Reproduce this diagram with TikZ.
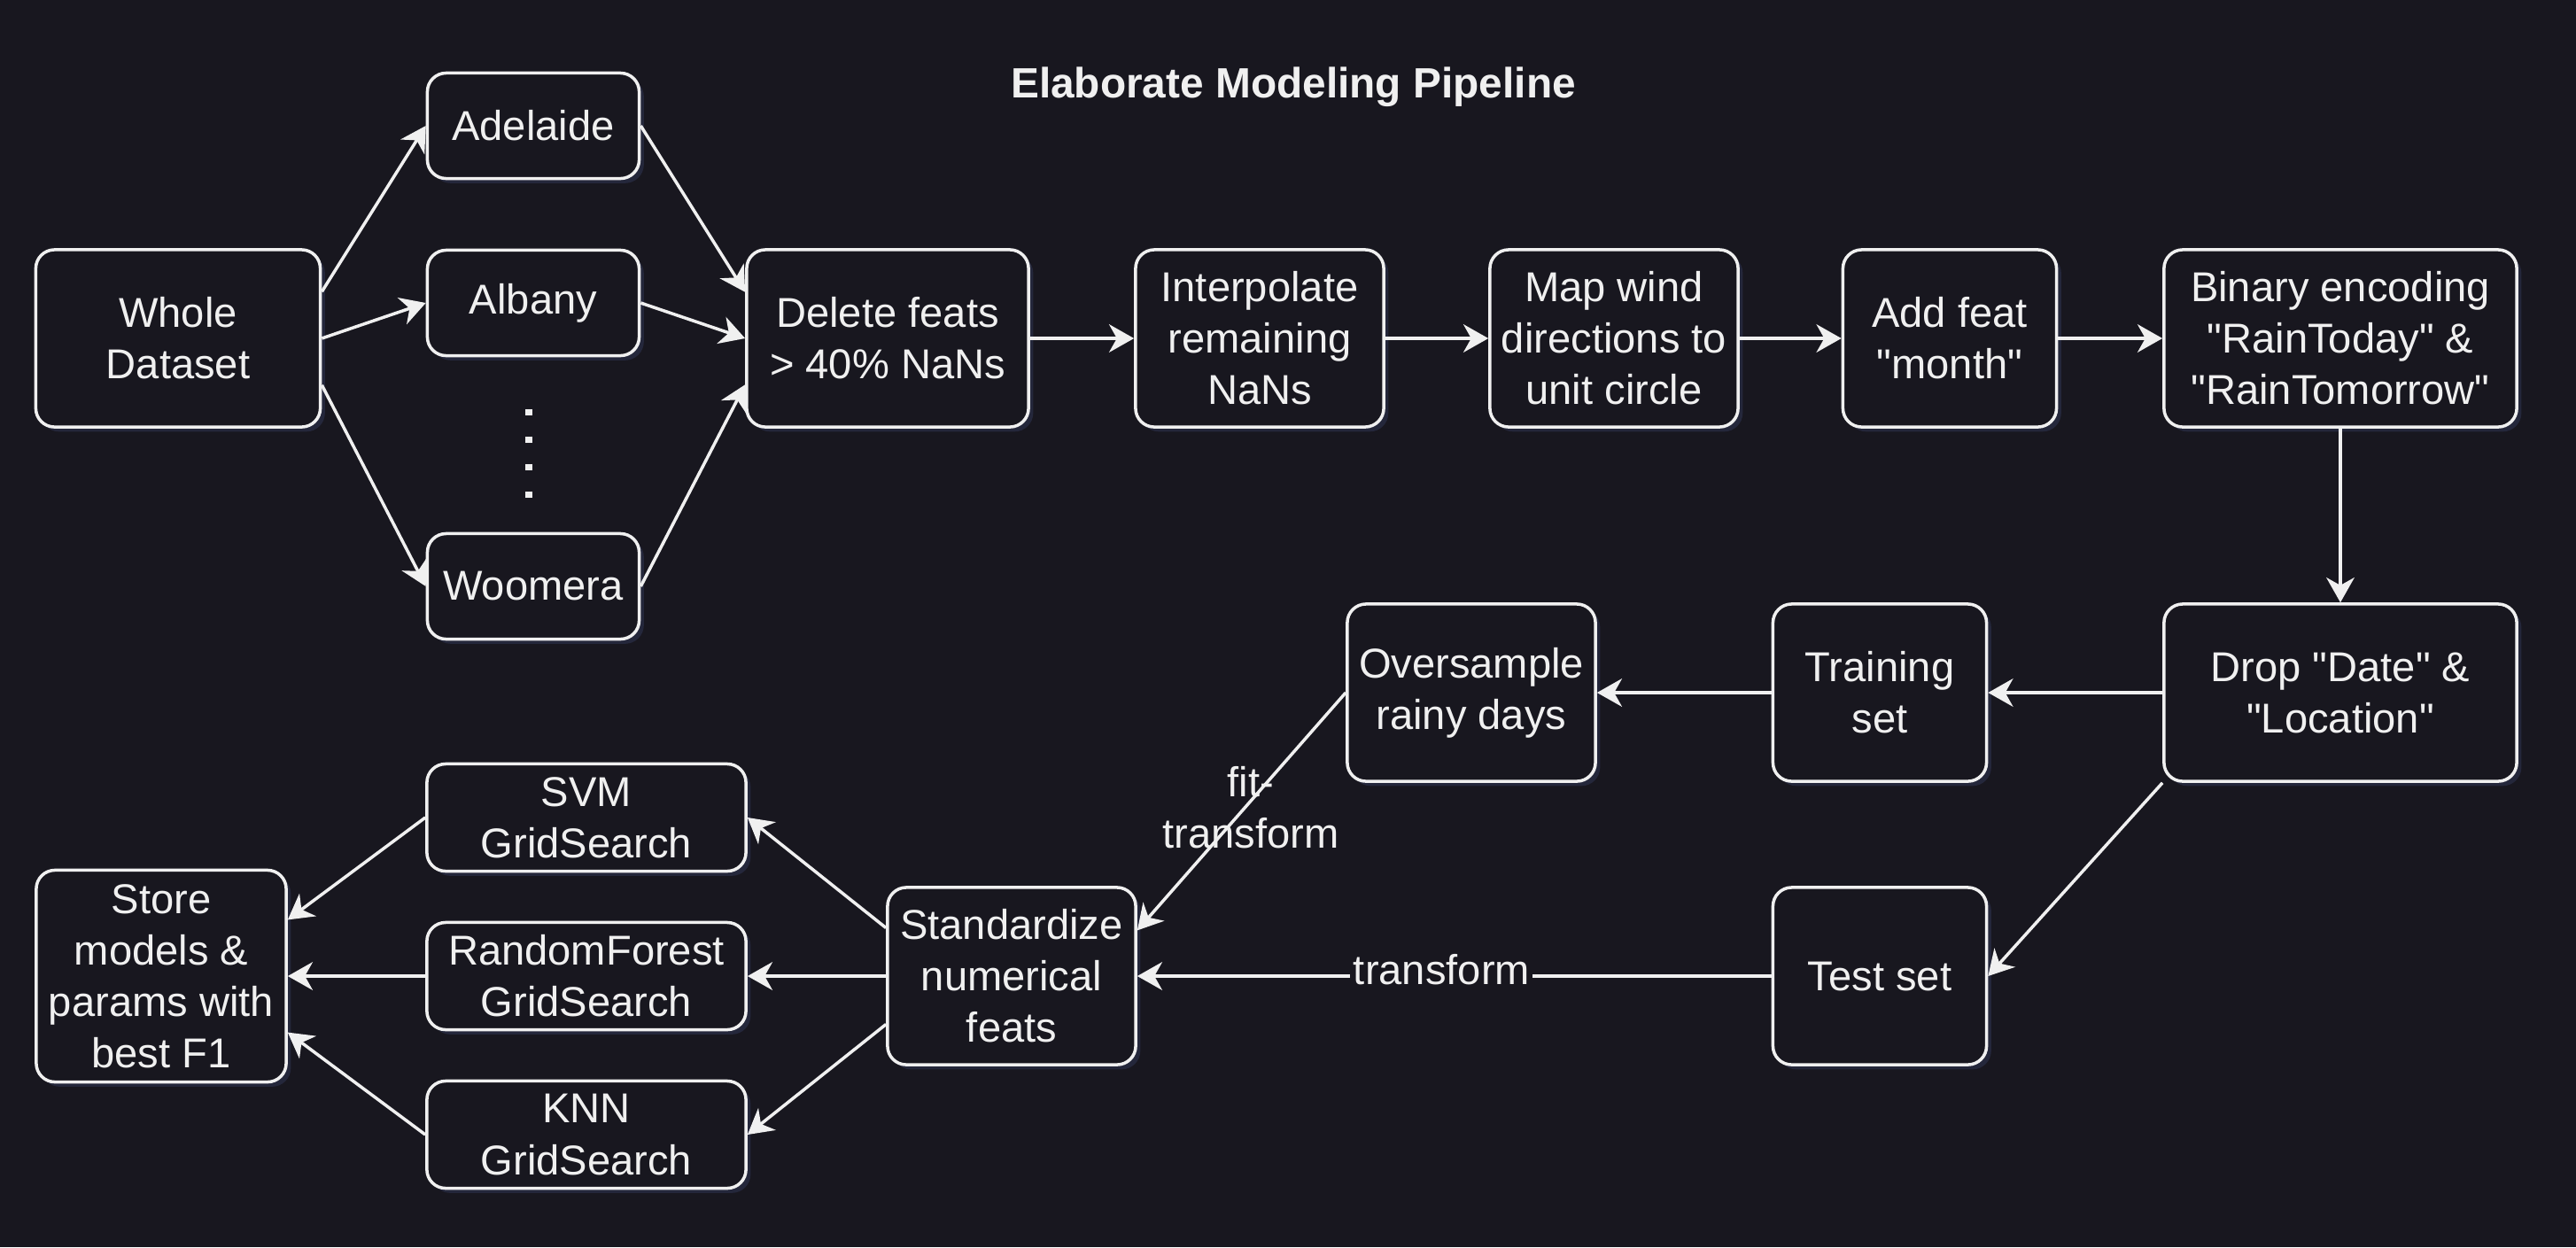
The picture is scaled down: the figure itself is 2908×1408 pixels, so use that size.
\documentclass[tikz,border=0pt]{standalone}
\usepackage{fontspec}
\setmainfont{Liberation Sans}[Ligatures=TeXOff]
\usetikzlibrary{arrows.meta,shadows}
\definecolor{bg}{HTML}{18171F}
\definecolor{ink}{HTML}{F0F0F0}
\definecolor{glow}{HTML}{2A2E47}

\begin{document}
\begin{tikzpicture}[x=0.01cm, y=-0.01cm,
    txt/.style={font=\fontsize{13.4}{16.5}\selectfont},
    box/.style={txt, draw=ink, fill=bg, line width=1pt, rounded corners=6pt, text=ink, align=center, inner sep=0pt,
        drop shadow={shadow xshift=1.5pt, shadow yshift=-1.5pt, fill=glow, opacity=0.7}},
    flow/.style={draw=ink, line width=1pt, -{Stealth[length=8pt, width=9pt, inset=2.5pt]}},
    lbl/.style={txt, text=ink, inner sep=1pt, align=center}]
    \fill[bg] (0,0) rectangle (2908,1408);
    \useasboundingbox (0,0) rectangle (2908,1408);
    % title
    \node[font=\fontsize{13.6}{16}\selectfont\bfseries, text=ink] (title) at (1460,98) {Elaborate Modeling Pipeline};
    % top row
    \node[box, minimum width=3.21cm, minimum height=2cm] (whole) at (201,382) {Whole\\Dataset};
    \node[box, minimum width=2.39cm, minimum height=1.19cm] (adelaide) at (602,142) {Adelaide};
    \node[box, minimum width=2.39cm, minimum height=1.19cm] (albany) at (602,342) {Albany};
    \node[box, minimum width=2.39cm, minimum height=1.19cm] (woomera) at (602,662) {Woomera};
    \node[box, minimum width=3.18cm, minimum height=2cm] (delete) at (1002,382) {Delete feats\\> 40\% NaNs};
    \node[box, minimum width=2.8cm, minimum height=2cm] (interp) at (1422,382) {Interpolate\\remaining\\NaNs};
    \node[box, minimum width=2.8cm, minimum height=2cm] (mapwind) at (1822,382) {Map wind\\directions to\\unit circle};
    \node[box, minimum width=2.41cm, minimum height=2cm] (addfeat) at (2201,382) {Add feat\\"month"};
    \node[box, minimum width=3.98cm, minimum height=2cm] (binary) at (2642,382) {Binary encoding\\"RainToday" \&\\"RainTomorrow"};
    % middle row
    \node[box, minimum width=3.98cm, minimum height=2cm] (drop) at (2642,782) {Drop "Date" \&\\"Location"};
    \node[box, minimum width=2.41cm, minimum height=2cm] (train) at (2122,782) {Training\\set};
    \node[box, minimum width=2.8cm, minimum height=2cm] (oversample) at (1661,782) {Oversample\\rainy days};
    % bottom row
    \node[box, minimum width=2.41cm, minimum height=2cm] (test) at (2122,1102) {Test set};
    \node[box, minimum width=2.8cm, minimum height=2cm] (std) at (1142,1102) {Standardize\\numerical\\feats};
    \node[box, minimum width=3.6cm, minimum height=1.21cm] (svm) at (662,923) {SVM\\GridSearch};
    \node[box, minimum width=3.6cm, minimum height=1.21cm] (rf) at (662,1102) {RandomForest\\GridSearch};
    \node[box, minimum width=3.6cm, minimum height=1.21cm] (knn) at (662,1281) {KNN\\GridSearch};
    \node[box, minimum width=2.82cm, minimum height=2.39cm] (store) at (182,1102) {Store\\models \&\\params with\\best F1};
    % dots between locations
    \draw[ink, line width=2.5pt, dash pattern=on 2pt off 6.8pt] (597,462) -- (597,562);
    % split by location
    \draw[flow] (whole.18) -- (adelaide.west);
    \draw[flow] (whole.east) -- (albany.west);
    \draw[flow] (whole.-18) -- (woomera.west);
    \draw[flow] (adelaide.east) -- (delete.162);
    \draw[flow] (albany.east) -- (delete.west);
    \draw[flow] (woomera.east) -- (delete.198);
    % preprocessing
    \draw[flow] (delete) -- (interp);
    \draw[flow] (interp) -- (mapwind);
    \draw[flow] (mapwind) -- (addfeat);
    \draw[flow] (addfeat) -- (binary);
    \draw[flow] (binary) -- (drop);
    \draw[flow] (drop) -- (train);
    \draw[flow] (drop.south west) -- (test.east);
    \draw[flow] (train) -- (oversample);
    \node[lbl] (fitlbl) at (1412,912) {fit-\\transform};
    \draw[flow] (oversample.west) -- (std.20);
    \draw[flow] (test) -- node[lbl, fill=bg, pos=0.52, yshift=2pt] {transform} (std);
    % models
    \draw[flow] (std.159) -- (svm.east);
    \draw[flow] (std) -- (rf);
    \draw[flow] (std.201) -- (knn.east);
    \draw[flow] (svm.west) -- (store.24);
    \draw[flow] (rf) -- (store);
    \draw[flow] (knn.west) -- (store.-24);
\end{tikzpicture}
\end{document}
